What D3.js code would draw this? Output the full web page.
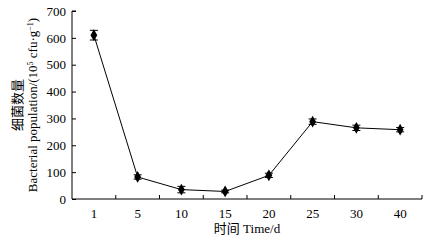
<!DOCTYPE html>
<html>
<head>
<meta charset="utf-8">
<script src="https://cdn.jsdelivr.net/npm/d3@7"></script>
<style>
  body { margin: 0; background: #fff; }
  svg text { font-family: "Liberation Serif", "Times New Roman", "DejaVu Serif", "Noto Sans CJK SC", serif !important; fill: #000; }
</style>
</head>
<body>
<div id="chart"></div>
<script>
// data
const days = ["1", "5", "10", "15", "20", "25", "30", "40"];
const population = [610, 82, 35, 28, 88, 288, 265, 258];
const errors = [18, 8, 12, 5, 8, 10, 10, 8];
const yTicks = [0, 100, 200, 300, 400, 500, 600, 700];

const width = 432, height = 242;
const margin = { top: 11, right: 10, bottom: 43, left: 72 };

const svg = d3.select("#chart").append("svg")
    .attr("width", width)
    .attr("height", height);

const x = d3.scaleBand()
    .domain(days)
    .range([margin.left, 422])
    .padding(0);

const y = d3.scaleLinear()
    .domain([0, 700])
    .range([height - margin.bottom, margin.top]);

// y axis
const yAxis = svg.append("g")
    .attr("transform", "translate(" + margin.left + ",0)")
    .call(d3.axisRight(y).tickValues(yTicks).tickSize(4).tickFormat(d3.format("d")));
yAxis.attr("font-family", null);
yAxis.select(".domain").attr("d", "M4," + y(700) + "H0V" + y(0));
yAxis.selectAll(".tick text")
    .attr("x", -6)
    .style("text-anchor", "end")
    .style("font-size", "13px");

// x axis: ticks on band boundaries pointing up
const xAxis = svg.append("g")
    .attr("transform", "translate(0," + y(0) + ")");
xAxis.append("line")
    .attr("x1", margin.left).attr("x2", 422)
    .attr("stroke", "#000");
xAxis.selectAll(".xtick")
    .data(days.slice(1).concat(["end"]))
    .enter().append("line")
    .attr("class", "xtick")
    .attr("x1", (d, i) => x(days[0]) + x.bandwidth() * (i + 1))
    .attr("x2", (d, i) => x(days[0]) + x.bandwidth() * (i + 1))
    .attr("y1", 0).attr("y2", -4)
    .attr("stroke", "#000");
xAxis.selectAll(".xlabel")
    .data(days)
    .enter().append("text")
    .attr("class", "xlabel")
    .attr("x", d => x(d) + x.bandwidth() / 2)
    .attr("y", 19)
    .style("text-anchor", "middle")
    .style("font-size", "13px")
    .text(d => d);

// error bars
const eb = svg.selectAll(".err")
    .data(days)
    .enter().append("g")
    .attr("class", "err")
    .attr("stroke", "#000")
    .attr("stroke-width", 1);
eb.append("line")
    .attr("x1", d => x(d) + x.bandwidth() / 2)
    .attr("x2", d => x(d) + x.bandwidth() / 2)
    .attr("y1", (d, i) => y(population[i] - errors[i]))
    .attr("y2", (d, i) => y(population[i] + errors[i]));
eb.append("line")
    .attr("x1", d => x(d) + x.bandwidth() / 2 - 4)
    .attr("x2", d => x(d) + x.bandwidth() / 2 + 4)
    .attr("y1", (d, i) => y(population[i] + errors[i]))
    .attr("y2", (d, i) => y(population[i] + errors[i]));
eb.append("line")
    .attr("x1", d => x(d) + x.bandwidth() / 2 - 4)
    .attr("x2", d => x(d) + x.bandwidth() / 2 + 4)
    .attr("y1", (d, i) => y(population[i] - errors[i]))
    .attr("y2", (d, i) => y(population[i] - errors[i]));

// line
const line = d3.line()
    .x((d, i) => x(days[i]) + x.bandwidth() / 2)
    .y(d => y(d));
svg.append("path")
    .datum(population)
    .attr("d", line)
    .attr("fill", "none")
    .attr("stroke", "#000")
    .attr("stroke-width", 1);

// markers
svg.selectAll(".pt")
    .data(population)
    .enter().append("path")
    .attr("class", "pt")
    .attr("transform", (d, i) => "translate(" + (x(days[i]) + x.bandwidth() / 2) + "," + y(d) + ")")
    .attr("d", d3.symbol().type(d3.symbolDiamond).size(40))
    .attr("fill", "#000");

// axis titles
const ylab = svg.append("g")
    .attr("transform", "translate(0," + ((y(0) + y(700)) / 2) + ") rotate(-90)");
ylab.append("text")
    .attr("x", 0).attr("y", 22)
    .style("text-anchor", "middle")
    .style("font-size", "13px")
    .text("细菌数量");
ylab.append("text")
    .attr("x", 0).attr("y", 37)
    .style("text-anchor", "middle")
    .style("font-size", "13px")
    .html("Bacterial population/(10<tspan dy='-4' font-size='8px'>5</tspan><tspan dy='4'> cfu·g</tspan><tspan dy='-4' font-size='8px'>−1</tspan><tspan dy='4'>)</tspan>");

svg.append("text")
    .attr("x", 247)
    .attr("y", 233)
    .style("text-anchor", "middle")
    .style("font-size", "13px")
    .text("时间 Time/d");
</script>
</body>
</html>
